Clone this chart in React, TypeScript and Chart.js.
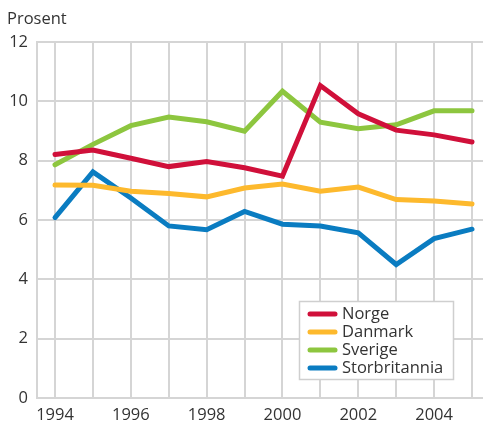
import React, { useEffect, useRef } from "react";
import { Chart, registerables } from "chart.js";

Chart.register(...registerables);

const years = [1994, 1995, 1996, 1997, 1998, 1999, 2000, 2001, 2002, 2003, 2004, 2005];
const norge = [8.21, 8.36, 8.08, 7.8, 7.97, 7.76, 7.48, 10.53, 9.58, 9.03, 8.87, 8.63];
const danmark = [7.18, 7.17, 6.97, 6.89, 6.78, 7.08, 7.21, 6.97, 7.11, 6.69, 6.64, 6.54];
const sverige = [7.86, 8.55, 9.18, 9.47, 9.31, 8.99, 10.34, 9.3, 9.08, 9.21, 9.68, 9.68];
const storbritannia = [6.08, 7.62, 6.74, 5.8, 5.67, 6.29, 5.86, 5.8, 5.57, 4.5, 5.37, 5.69];
const seriesNames = ["Norge", "Danmark", "Sverige", "Storbritannia"];
const seriesColors = ["#d0103a", "#fdb92d", "#8dc63f", "#0a7cc1"];
const yTicks = [0, 2, 4, 6, 8, 10, 12];
const yTitle = "Prosent";

const FONT = "'Open Sans', 'Noto Sans', sans-serif";
const TEXT = "#333333";
const GRID = "#d5d5d5";

const overlayPlugin = {
  id: "overlay",
  afterDraw(chart: any) {
    const ctx = chart.ctx;
    ctx.save();
    ctx.font = `16.5px ${FONT}`;
    ctx.fillStyle = TEXT;
    ctx.textBaseline = "middle";
    ctx.textAlign = "left";
    ctx.fillText(yTitle, 7, 19);

    // legend box
    const bx = 299.5, by = 301.5, bw = 154, bh = 78;
    ctx.fillStyle = "#ffffff";
    ctx.fillRect(bx, by, bw, bh);
    ctx.strokeStyle = "#cfcfcf";
    ctx.lineWidth = 1.5;
    ctx.strokeRect(bx, by, bw, bh);
    chart.data.datasets.forEach((ds: any, i: number) => {
      const cy = 314 + i * 18;
      ctx.strokeStyle = ds.borderColor;
      ctx.lineWidth = 5;
      ctx.lineCap = "round";
      ctx.beginPath();
      ctx.moveTo(310, cy);
      ctx.lineTo(335, cy);
      ctx.stroke();
      ctx.fillStyle = TEXT;
      ctx.fillText(ds.label, 342, cy + 0.5);
    });
    ctx.restore();
  },
};

export default function App() {
  const ref = useRef<HTMLCanvasElement | null>(null);
  useEffect(() => {
    if (!ref.current) return;
    const all = [norge, danmark, sverige, storbritannia];
    const chart = new Chart(ref.current, {
      type: "line",
      data: {
        datasets: all.map((arr, i) => ({
          label: seriesNames[i],
          data: years.map((yr, j) => ({ x: yr, y: arr[j] })),
          borderColor: seriesColors[i],
          backgroundColor: seriesColors[i],
          borderWidth: 5,
          pointRadius: 0,
          tension: 0,
          borderCapStyle: "round",
          borderJoinStyle: "miter",
          fill: false,
        })),
      },
      options: {
        animation: false,
        responsive: false,
        maintainAspectRatio: false,
        layout: { padding: { top: 42, left: 0, right: 0, bottom: 0 } },
        plugins: { legend: { display: false }, tooltip: { enabled: false } },
        scales: {
          x: {
            type: "linear",
            min: 1993.525,
            max: 2005.29,
            afterBuildTicks: (scale: any) => {
              scale.ticks = years.map((v) => ({ value: v }));
            },
            afterFit: (scale: any) => {
              scale.height = 24;
            },
            grid: { color: GRID, lineWidth: 2, drawTicks: false },
            border: { color: GRID, width: 2 },
            ticks: {
              autoSkip: false,
              maxRotation: 0,
              padding: 7,
              color: TEXT,
              font: { family: FONT, size: 16.5 },
              callback: (v: any) => (Number(v) % 2 === 0 ? String(v) : ""),
            },
          },
          y: {
            min: 0,
            max: 12,
            afterBuildTicks: (scale: any) => {
              scale.ticks = yTicks.map((v) => ({ value: v }));
            },
            afterFit: (scale: any) => {
              scale.width = 37;
            },
            grid: { color: GRID, lineWidth: 2, drawTicks: false },
            border: { color: GRID, width: 2 },
            ticks: {
              padding: 9,
              color: TEXT,
              font: { family: FONT, size: 16.5 },
            },
          },
        },
      },
      plugins: [overlayPlugin],
    } as any);
    return () => chart.destroy();
  }, []);
  return (
    <div style={{ position: "fixed", left: 0, top: 0, width: 483, height: 422 }}>
      <canvas ref={ref} width={483} height={422} style={{ width: 483, height: 422 }} />
    </div>
  );
}
